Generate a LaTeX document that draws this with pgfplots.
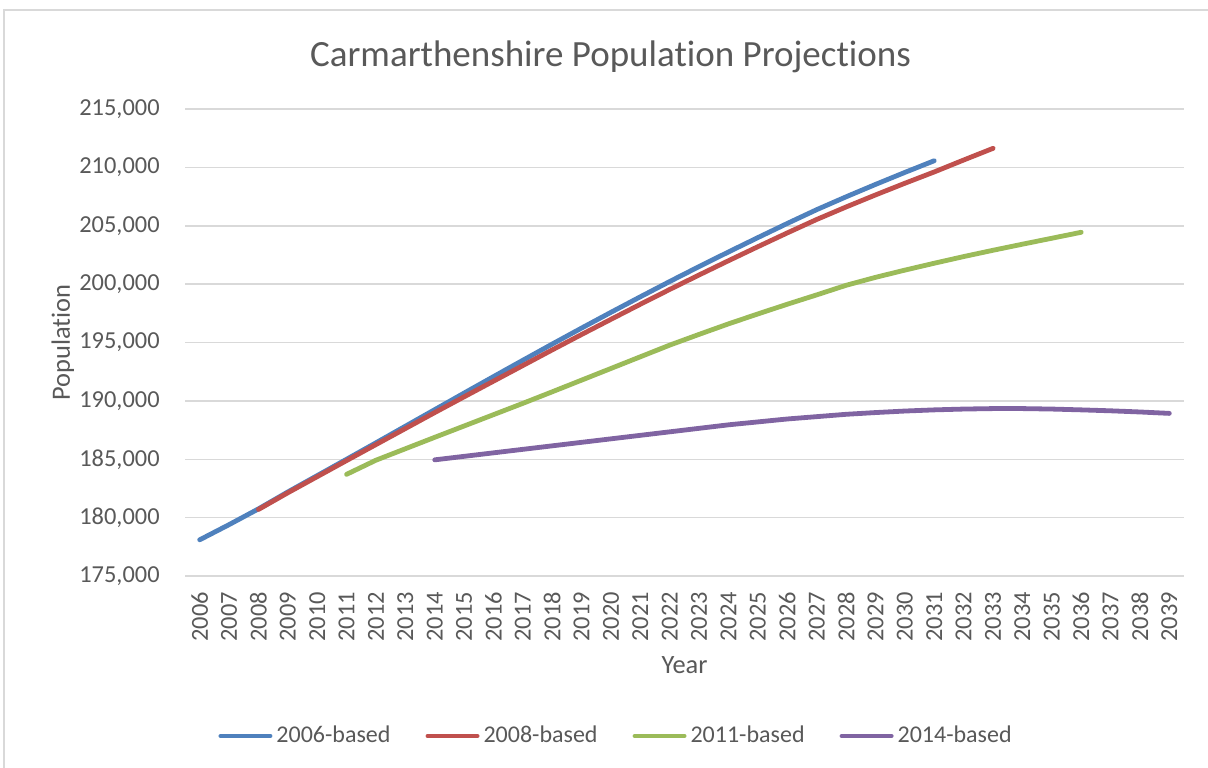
\documentclass[border=0pt]{standalone}
\usepackage{pgfplots}
\pgfplotsset{compat=1.18}
\usepackage{fontspec}
\setmainfont{Carlito}[Ligatures={NoCommon}]
\definecolor{txt}{HTML}{595959}
\definecolor{gridc}{HTML}{D9D9D9}
\definecolor{cblue}{HTML}{4F81BD}
\definecolor{cred}{HTML}{C0504D}
\definecolor{cgreen}{HTML}{9BBB59}
\definecolor{cpurple}{HTML}{8064A2}
\begin{document}
\begin{tikzpicture}[x=1pt,y=1pt]
\useasboundingbox (0,0) rectangle (604,383.5);
\fill[white] (0,0) rectangle (604,383.5);
\draw[gridc, line width=0.75pt] (2,-5) -- (2,378.5) -- (610,378.5);
\begin{axis}[
  at={(92.5pt,95.5pt)}, anchor=south west,
  scale only axis, width=499.5pt, height=233.5pt,
  xmin=2005.5, xmax=2039.5, ymin=175000, ymax=215000,
  xtick={2006,...,2039},
  ytick={175000,180000,...,215000},
  scaled y ticks=false,
  ymajorgrids, major grid style={gridc, line width=0.75pt},
  axis line style={draw=none}, tick style={draw=none},
  /pgf/number format/assume math mode=true,
  ticklabel style={font=\fontsize{12.2}{14}\selectfont, text=txt},
  yticklabel style={/pgf/number format/.cd, fixed, precision=0, 1000 sep={,}, /tikz/.cd, anchor=east, inner sep=0pt, xshift=-12.5pt},
  xticklabel style={/pgf/number format/.cd, 1000 sep={}, /tikz/.cd, yshift=-7.85pt, rotate=90, anchor=east, inner sep=0pt},
  legend style={at={(axis description cs:0.4325,-0.3426)}, anchor=center, draw=none, fill=none,
    font=\fontsize{12}{14}\selectfont, text=txt, inner sep=0pt,
    /tikz/every even column/.append style={column sep=15.5pt}},
  legend columns=4,
  legend image code/.code={\draw[#1, line width=2.4pt, line cap=round] (1.2pt,0pt) -- (25.8pt,0pt);},
  every axis plot/.append style={line width=2.4pt, line cap=round, line join=round},
]
\addplot[cblue] coordinates {
(2006,178100)(2007,179400)(2008,180750)(2009,182200)(2010,183600)(2011,185000)
(2012,186410)(2013,187830)(2014,189250)(2015,190670)(2016,192080)(2017,193480)
(2018,194870)(2019,196240)(2020,197590)(2021,198920)(2022,200230)(2023,201510)
(2024,202760)(2025,203990)(2026,205200)(2027,206380)(2028,207480)(2029,208540)
(2030,209570)(2031,210570)};
\addlegendentry{2006-based}
\addplot[cred] coordinates {
(2008,180700)(2009,182130)(2010,183510)(2011,184890)(2012,186260)(2013,187630)
(2014,189000)(2015,190350)(2016,191690)(2017,193030)(2018,194370)(2019,195690)
(2020,196990)(2021,198280)(2022,199550)(2023,200790)(2024,202010)(2025,203210)
(2026,204390)(2027,205540)(2028,206610)(2029,207640)(2030,208640)(2031,209610)
(2032,210630)(2033,211630)};
\addlegendentry{2008-based}
\addplot[cgreen] coordinates {
(2011,183710)(2012,184920)(2013,185900)(2014,186880)(2015,187850)(2016,188820)
(2017,189790)(2018,190780)(2019,191780)(2020,192780)(2021,193780)(2022,194780)
(2023,195700)(2024,196600)(2025,197450)(2026,198280)(2027,199080)(2028,199900)
(2029,200580)(2030,201200)(2031,201790)(2032,202360)(2033,202900)(2034,203420)
(2035,203930)(2036,204440)};
\addlegendentry{2011-based}
\addplot[cpurple] coordinates {
(2014,184950)(2015,185250)(2016,185550)(2017,185850)(2018,186150)(2019,186450)
(2020,186750)(2021,187050)(2022,187350)(2023,187650)(2024,187950)(2025,188200)
(2026,188450)(2027,188650)(2028,188850)(2029,189000)(2030,189130)(2031,189230)
(2032,189300)(2033,189340)(2034,189340)(2035,189300)(2036,189230)(2037,189150)
(2038,189050)(2039,188930)};
\addlegendentry{2014-based}
\end{axis}
\node[anchor=base, font=\fontsize{18.5}{22}\selectfont, text=txt] at (305.25,350.15) {Carmarthenshire Population Projections};
\node[font=\fontsize{13.2}{15}\selectfont, text=txt] at (342.25,51) {Year};
\node[anchor=base, rotate=90, font=\fontsize{13.2}{15}\selectfont, text=txt] at (35,212.25) {Population};
\end{tikzpicture}
\end{document}
